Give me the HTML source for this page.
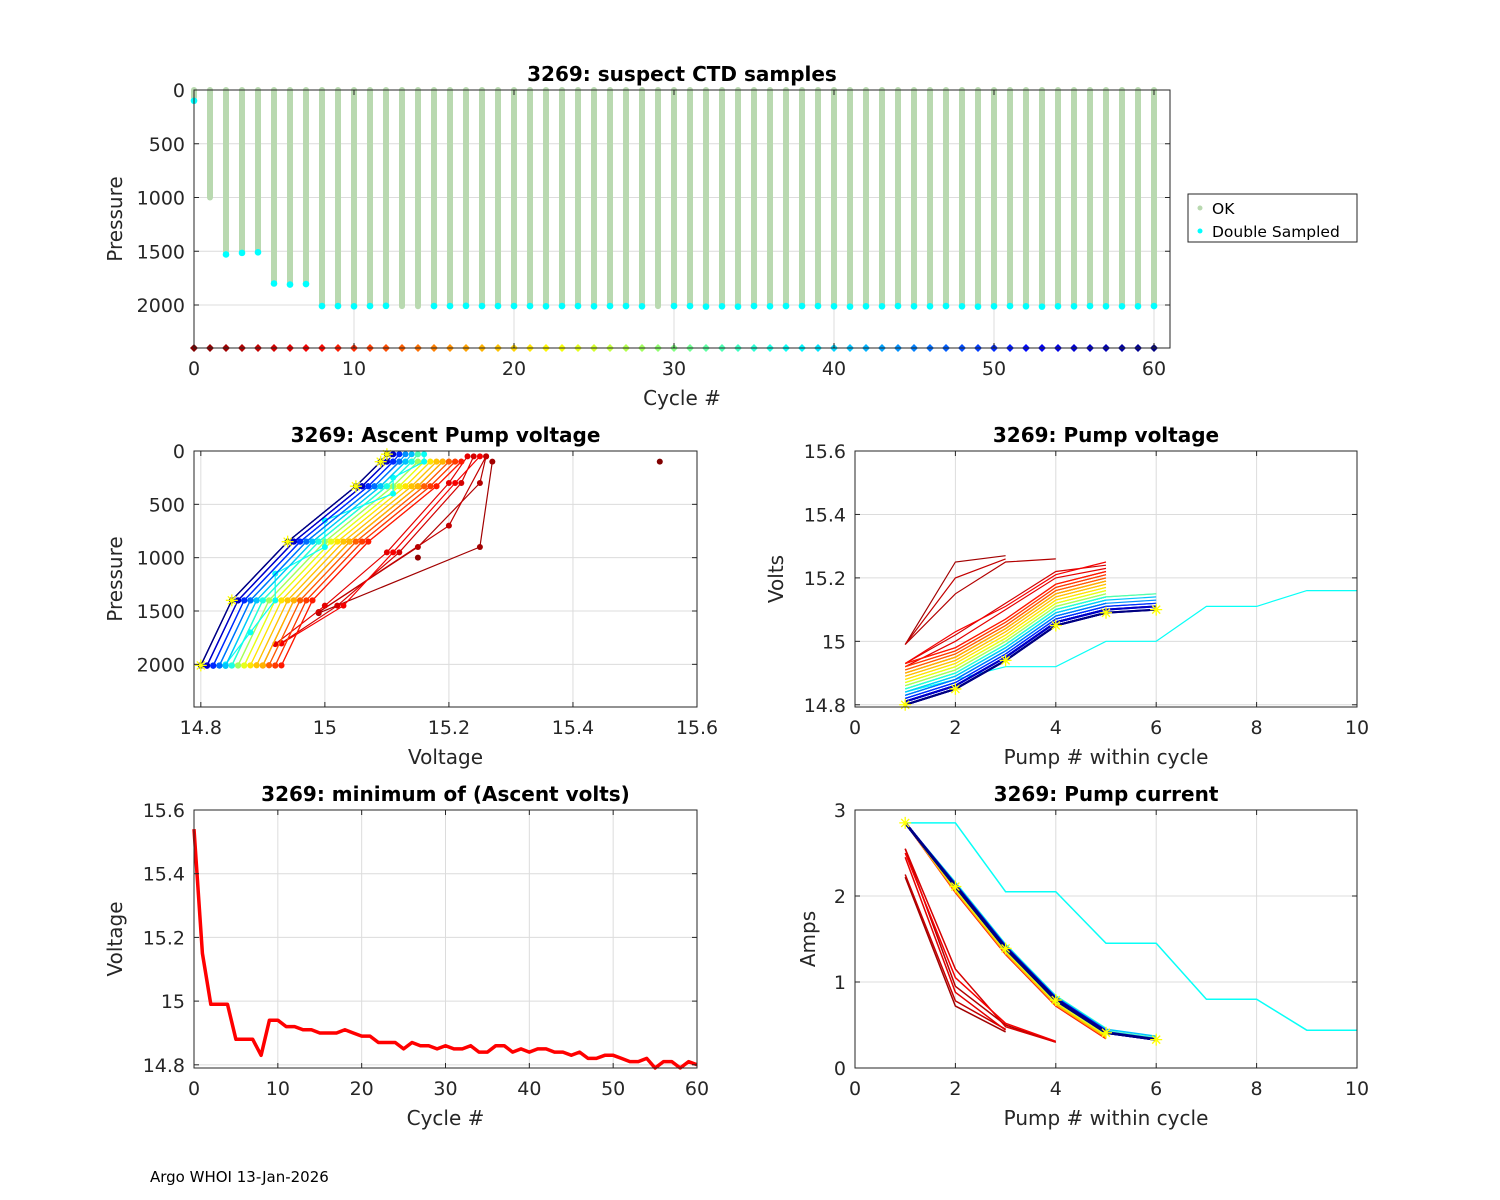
<!DOCTYPE html>
<html><head><meta charset="utf-8">
<style>
html,body{margin:0;padding:0;background:#fff;}
svg{display:block;font-family:"DejaVu Sans","Liberation Sans",sans-serif;}
</style></head>
<body>
<svg id="fig" width="1500" height="1200" viewBox="0 0 1500 1200" xmlns="http://www.w3.org/2000/svg">
<rect width="1500" height="1200" fill="#fff"/>
<text x="150" y="1182" font-size="15" fill="#000">Argo WHOI 13-Jan-2026</text>
</svg>
<script>
// ---------------- DATA ----------------
const cycles = Array.from({length:61},(_,i)=>i);
const maxPressure = [100,1000,1530,1515,1510,1800,1810,1805,2010,2010,2012,2010,2008,2010,2012,2010,2010,2008,2010,2010,2010,2010,2012,2010,2010,2012,2010,2010,2012,2010,2010,2010,2015,2012,2015,2010,2012,2010,2010,2010,2012,2015,2012,2012,2010,2012,2012,2010,2012,2015,2012,2010,2012,2015,2012,2012,2010,2012,2012,2012,2010];
const noDoubleSample = [1,13,14,29];
const minVolts = [15.54,15.15,14.99,14.99,14.99,14.88,14.88,14.88,14.83,14.94,14.94,14.92,14.92,14.91,14.91,14.90,14.90,14.90,14.91,14.90,14.89,14.89,14.87,14.87,14.87,14.85,14.87,14.86,14.86,14.85,14.86,14.85,14.85,14.86,14.84,14.84,14.86,14.86,14.84,14.85,14.84,14.85,14.85,14.84,14.84,14.83,14.84,14.82,14.82,14.83,14.83,14.82,14.81,14.81,14.82,14.79,14.81,14.81,14.79,14.81,14.80];
const pump1Volts = [null,null,null,null,null,null,null,null,14.93,14.93,14.92,14.92,14.91,14.91,14.90,14.90,14.90,14.89,14.90,14.89,14.88,14.88,14.87,14.87,14.87,14.85,14.86,14.86,14.86,14.85,14.85,14.85,14.84,14.85,14.84,14.84,14.85,14.84,14.83,14.84,14.83,14.84,14.83,14.83,14.83,14.82,14.83,14.82,14.82,14.82,14.82,14.81,14.81,14.81,14.81,14.80,14.81,14.80,14.80,14.80,14.80];
const pumpRise = [0,0.05,0.14,0.25,0.29,0.30];
const pumpCount = [1,1,3,4,3,5,5,5,5,5,5,5,5,5,5,5,5,5,5,5,5,5,5,5,5,5,5,5,5,5,6,5,5,6,5,5,5,6,5,5,5,6,5,5,6,5,5,6,5,5,6,5,5,6,5,5,6,5,6,5,6];
const earlyVolts = {0:[15.54],1:[15.15],2:[14.99,15.25,15.27],3:[14.99,15.15,15.25,15.26],4:[14.99,15.20,15.26],5:[14.93,15.02,15.12,15.22,15.24],6:[14.92,15.00,15.10,15.20,15.23],7:[14.93,15.03,15.11,15.21,15.25]};
const longCycle = 37;
const longVolts = [14.84,14.88,14.92,14.92,15.0,15.0,15.11,15.11,15.16,15.16];
const longAmps = [2.85,2.85,2.05,2.05,1.45,1.45,0.8,0.8,0.44,0.44];
const longPressure = [2000,1700,1400,1150,900,650,400,250,100,30];
const pumpAmps = [2.85,2.1,1.38,0.78,0.4,0.32];
const ampShift = [0,0,0,0,0,0,0,0,-0.06,-0.05,-0.05,-0.04,-0.04,-0.03,-0.05,-0.03,-0.02,-0.03,-0.02,-0.04,-0.01,-0.02,-0.01,0,-0.02,0.01,0,0.02,0,0.01,0.03,0.02,0.05,0.03,0.04,0.06,0.02,0.07,0.03,0.04,0.02,0.05,0.03,0.04,0.02,0.03,0.04,0.02,0.03,0.01,0.02,0.03,0.02,0.01,0.02,0.03,0.01,0.02,0.01,0.02,0.01];
const earlyAmps = {2:[2.22,0.72,0.42],3:[2.55,0.95,0.5,0.3],4:[2.25,0.78,0.45],5:[2.55,1.15,0.48,0.3],6:[2.45,0.88,0.44],7:[2.5,1.05,0.52,0.31]};
const pumpPressure = [2000,1400,850,330,100,30];
const earlyPressure = {0:[100],1:[1000],2:[1520,900,100],3:[1510,900,300,50],4:[1510,700,50],5:[1800,1450,950,300,50],6:[1810,1450,950,300,50],7:[1805,1450,950,300,50]};
const xTicksCycle=[0,10,20,30,40,50,60];
const yTicksP=[0,500,1000,1500,2000];
const xTicksV=[14.8,15,15.2,15.4,15.6];
const yTicksV=[14.8,15,15.2,15.4,15.6];
const xTicksPump=[0,2,4,6,8,10];
const yTicksA=[0,1,2,3];

// ---------------- HELPERS ----------------
const NS="http://www.w3.org/2000/svg";
const fig=document.getElementById('fig');
function el(tag,attrs,parent){const e=document.createElementNS(NS,tag);for(const k in attrs)e.setAttribute(k,attrs[k]);(parent||fig).appendChild(e);return e;}
function jet(t){function c(x){return Math.round(255*Math.max(0,Math.min(1,x)));}
  const r=1.5-Math.abs(4*t-3),g=1.5-Math.abs(4*t-2),b=1.5-Math.abs(4*t-1);return `rgb(${c(r)},${c(g)},${c(b)})`;}
function ccol(c){return jet(1-c/60);}

function axes(o){
  const g=el('g',{});
  
  
  const sx=v=>o.x0+(v-o.xmin)/(o.xmax-o.xmin)*(o.x1-o.x0);
  const sy=o.yrev?(v=>o.y0+(v-o.ymin)/(o.ymax-o.ymin)*(o.y1-o.y0)):(v=>o.y1-(v-o.ymin)/(o.ymax-o.ymin)*(o.y1-o.y0));
  const grid=el('g',{},g);
  o.xt.forEach(t=>{const x=sx(t);el('line',{x1:x,x2:x,y1:o.y0,y2:o.y1,stroke:'#dcdcdc','stroke-width':1},grid);});
  o.yt.forEach(t=>{const y=sy(t);el('line',{x1:o.x0,x2:o.x1,y1:y,y2:y,stroke:'#dcdcdc','stroke-width':1},grid);});
  const plot=el('g',{},g);
  return {g,plot,sx,sy,o};
}
function finishAxes(A){
  const o=A.o,g=A.g;
  el('rect',{x:o.x0,y:o.y0,width:o.x1-o.x0,height:o.y1-o.y0,fill:'none',stroke:'#262626','stroke-width':1},g);
  o.xt.forEach(t=>{const x=A.sx(t);
    el('line',{x1:x,x2:x,y1:o.y1,y2:o.y1-5,stroke:'#262626'},g);el('line',{x1:x,x2:x,y1:o.y0,y2:o.y0+5,stroke:'#262626'},g);
    const tx=el('text',{x:x,y:o.y1+27,'font-size':19,'text-anchor':'middle',fill:'#262626'},g);tx.textContent=String(t);
    });
  o.yt.forEach(t=>{const y=A.sy(t);
    el('line',{x1:o.x0,x2:o.x0+5,y1:y,y2:y,stroke:'#262626'},g);el('line',{x1:o.x1,x2:o.x1-5,y1:y,y2:y,stroke:'#262626'},g);
    const tx=el('text',{x:o.x0-9,y:y+7,'font-size':19,'text-anchor':'end',fill:'#262626'},g);tx.textContent=String(t);
    });
  const ti=el('text',{x:(o.x0+o.x1)/2,y:o.y0-9,'font-size':20,'font-weight':'bold','text-anchor':'middle',fill:'#000'},g);ti.textContent=o.title;
  
  const xl=el('text',{x:(o.x0+o.x1)/2,y:o.y1+57,'font-size':20,'text-anchor':'middle',fill:'#262626'},g);xl.textContent=o.xlabel;
  
  const yx=o.x0-o.ylabOff, yy=(o.y0+o.y1)/2;
  const yl=el('text',{x:yx,y:yy,'font-size':20,'text-anchor':'middle',fill:'#262626',transform:`rotate(-90 ${yx} ${yy})`},g);yl.textContent=o.ylabel;
  
}
function poly(parent,pts,attrs){return el('polyline',Object.assign({points:pts.map(p=>p[0].toFixed(1)+','+p[1].toFixed(1)).join(' '),fill:'none'},attrs),parent);}
function star(parent,x,y){const s=6;const d=`M${x-s},${y}H${x+s}M${x},${y-s}V${y+s}M${x-4},${y-4}L${x+4},${y+4}M${x-4},${y+4}L${x+4},${y-4}`;
  const p=el('path',{d:d,stroke:'#ffff00','stroke-width':1.3,fill:'none'},parent);
  }

function cycleVolts(c){
  if(c===longCycle) return longVolts;
  if(earlyVolts[c]) return earlyVolts[c];
  const n=pumpCount[c];const r=[];for(let i=0;i<n;i++)r.push(pump1Volts[c]+pumpRise[i]);return r;}
function cycleAmps(c){
  if(c===longCycle) return longAmps;
  if(earlyAmps[c]) return earlyAmps[c];
  return pumpAmps.slice(0,pumpCount[c]).map((a,i)=>i===0?a:a+ampShift[c]);}
function cyclePress(c){
  if(c===longCycle) return longPressure;
  if(earlyPressure[c]) return earlyPressure[c];
  const v=cycleVolts(c);const r=[];for(let i=0;i<v.length;i++)r.push(pumpPressure[Math.min(i,pumpPressure.length-1)]);
  r[0]=maxPressure[c];return r;}

// ---------------- TOP PANEL ----------------
(function(){
  const A=axes({name:'suspect-ctd-chart',x0:194,x1:1170,y0:90,y1:348,xmin:0,xmax:61,ymin:0,ymax:2400,yrev:true,xt:xTicksCycle,yt:yTicksP,
    title:'3269: suspect CTD samples',xlabel:'Cycle #',ylabel:'Pressure',ylabOff:72});
  cycles.forEach(c=>{
    const x=A.sx(c);
    const b=el('line',{x1:x,x2:x,y1:A.sy(0),y2:A.sy(c===0?70:maxPressure[c]),stroke:'#b9d9b0','stroke-width':6,'stroke-linecap':'round'},A.plot);
    
    if(noDoubleSample.indexOf(c)<0){
      const d=el('circle',{cx:x,cy:A.sy(maxPressure[c]),r:3.3,fill:'#00ffff'},A.plot);
      }
    const m=el('path',{d:`M${x},${A.sy(2400)-4}l4,4l-4,4l-4,-4z`,fill:ccol(c)},A.plot);
    
  });
  finishAxes(A);
  const lg=el('g',{});
  
  el('rect',{x:1188,y:194,width:169,height:48,fill:'#fff',stroke:'#262626'},lg);
  el('circle',{cx:1200,cy:208,r:2.5,fill:'#b9d9b0'},lg);
  el('circle',{cx:1200,cy:231,r:2.5,fill:'#00ffff'},lg);
  const t1=el('text',{x:1212,y:214,'font-size':15.5,fill:'#000'},lg);t1.textContent='OK';
  
  const t2=el('text',{x:1212,y:237,'font-size':15.5,fill:'#000'},lg);t2.textContent='Double Sampled';
  
})();

// ---------------- ASCENT PUMP VOLTAGE ----------------
(function(){
  const A=axes({name:'ascent-pump-voltage-chart',x0:194,x1:697,y0:451,y1:707,xmin:14.789,xmax:15.6,ymin:0,ymax:2400,yrev:true,xt:xTicksV,yt:yTicksP,
    title:'3269: Ascent Pump voltage',xlabel:'Voltage',ylabel:'Pressure',ylabOff:72});
  cycles.forEach(c=>{
    const v=cycleVolts(c),p=cyclePress(c),col=ccol(c);
    const pts=v.map((vv,i)=>[A.sx(vv),A.sy(p[i])]);
    if(pts.length>1){const l=poly(A.plot,pts,{stroke:col,'stroke-width':1.2});
      }
    pts.forEach(q=>{const d=el('circle',{cx:q[0],cy:q[1],r:3,fill:col},A.plot);
      });
    if(c===60) pts.forEach(q=>star(A.plot,q[0],q[1]));
  });
  finishAxes(A);
})();

// ---------------- PUMP VOLTAGE ----------------
(function(){
  const A=axes({name:'pump-voltage-chart',x0:855,x1:1357,y0:451,y1:707,xmin:0,xmax:10,ymin:14.793,ymax:15.6,xt:xTicksPump,yt:yTicksV,
    title:'3269: Pump voltage',xlabel:'Pump # within cycle',ylabel:'Volts',ylabOff:72});
  cycles.forEach(c=>{
    if(c<2) return;
    const v=cycleVolts(c);
    const l=poly(A.plot,v.map((vv,i)=>[A.sx(i+1),A.sy(vv)]),{stroke:ccol(c),'stroke-width':c>50?2:1.2});
    
    if(c===60) v.forEach((vv,i)=>star(A.plot,A.sx(i+1),A.sy(vv)));
  });
  finishAxes(A);
})();

// ---------------- MIN VOLTS ----------------
(function(){
  const A=axes({name:'minimum-ascent-volts-chart',x0:194,x1:697,y0:810,y1:1068,xmin:0,xmax:60,ymin:14.79,ymax:15.6,xt:xTicksCycle,yt:yTicksV,
    title:'3269: minimum of (Ascent volts)',xlabel:'Cycle #',ylabel:'Voltage',ylabOff:72});
  const l=poly(A.plot,cycles.map(c=>[A.sx(c),A.sy(minVolts[c])]),{stroke:'#ff0000','stroke-width':3.5,'stroke-linejoin':'round'});
  
  finishAxes(A);
})();

// ---------------- PUMP CURRENT ----------------
(function(){
  const A=axes({name:'pump-current-chart',x0:855,x1:1357,y0:810,y1:1068,xmin:0,xmax:10,ymin:0,ymax:3,xt:xTicksPump,yt:yTicksA,
    title:'3269: Pump current',xlabel:'Pump # within cycle',ylabel:'Amps',ylabOff:40});
  cycles.forEach(c=>{
    if(c<2) return;
    const a=cycleAmps(c);
    const l=poly(A.plot,a.map((vv,i)=>[A.sx(i+1),A.sy(vv)]),{stroke:ccol(c),'stroke-width':c>50?2.5:1.5});
    
    if(c===60) a.forEach((vv,i)=>star(A.plot,A.sx(i+1),A.sy(vv)));
  });
  finishAxes(A);
})();
</script>
</body></html>
